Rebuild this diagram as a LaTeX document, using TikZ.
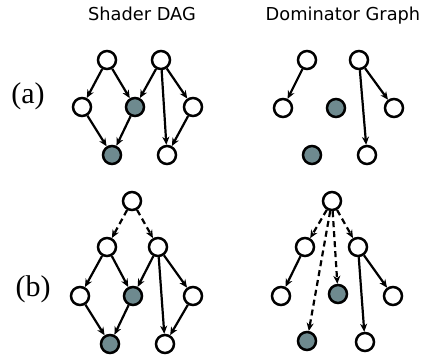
\documentclass[tikz,border=0pt]{standalone}
\usepackage{fontspec}
\setmainfont{Liberation Serif}
\newfontfamily\titlefont{DejaVu Sans}
\usetikzlibrary{arrows.meta}
\definecolor{nodegray}{RGB}{110,138,143}
\tikzset{
  vtx/.style={circle,draw=black,line width=2.5pt,fill=white,minimum size=18pt,inner sep=0pt},
  gvtx/.style={vtx,fill=nodegray},
  arr/.style={line width=2.2pt,-{Stealth[length=8pt,width=7pt,inset=2.5pt]}},
  darr/.style={arr,dash pattern=on 6pt off 4pt},
  ttl/.style={font=\titlefont\fontsize{17.8}{21}\selectfont,anchor=base,inner sep=0pt},
  lbl/.style={font=\fontsize{30}{32}\selectfont}
}
\begin{document}
\begin{tikzpicture}[x=1pt,y=-1pt]
\useasboundingbox (0,0) rectangle (422,358);
% titles
\node[ttl] (t1) at (142,21) {Shader DAG};
\node[ttl] (t2) at (343,21) {Dominator Graph};
\node[lbl] (la) at (28,96) {(a)};
\node[lbl] (lb) at (33,289) {(b)};
% (a) Shader DAG
\node[vtx] (a1) at (107,60) {};
\node[vtx] (a2) at (161,60) {};
\node[vtx] (a3) at (82,107) {};
\node[gvtx] (a4) at (135,107) {};
\node[vtx] (a5) at (193,107) {};
\node[gvtx] (a6) at (112,155) {};
\node[vtx] (a7) at (167,155) {};
\draw[arr] (a1) -- (a3);
\draw[arr] (a1) -- (a4);
\draw[arr] (a2) -- (a4);
\draw[arr] (a2) -- (a7);
\draw[arr] (a2) -- (a5);
\draw[arr] (a3) -- (a6);
\draw[arr] (a4) -- (a6);
\draw[arr] (a5) -- (a7);
% (a) Dominator graph
\node[vtx] (d1) at (307,60) {};
\node[vtx] (d2) at (359,60) {};
\node[vtx] (d3) at (283,108) {};
\node[gvtx] (d4) at (336,108) {};
\node[vtx] (d5) at (394,108) {};
\node[gvtx] (d6) at (312,155) {};
\node[vtx] (d7) at (367,155) {};
\draw[arr] (d1) -- (d3);
\draw[arr] (d2) -- (d7);
\draw[arr] (d2) -- (d5);
% (b) Shader DAG
\node[vtx] (b0) at (132,201) {};
\node[vtx] (b1) at (107,247) {};
\node[vtx] (b2) at (158,247) {};
\node[vtx] (b3) at (80,296) {};
\node[gvtx] (b4) at (133,296) {};
\node[vtx] (b5) at (193,296) {};
\node[gvtx] (b6) at (110,344) {};
\node[vtx] (b7) at (165,344) {};
\draw[darr] (b0) -- (b1);
\draw[darr] (b0) -- (b2);
\draw[arr] (b1) -- (b3);
\draw[arr] (b1) -- (b4);
\draw[arr] (b2) -- (b4);
\draw[arr] (b2) -- (b7);
\draw[arr] (b2) -- (b5);
\draw[arr] (b3) -- (b6);
\draw[arr] (b4) -- (b6);
\draw[arr] (b5) -- (b7);
% (b) Dominator graph
\node[vtx] (e0) at (332,201) {};
\node[vtx] (e1) at (305,247) {};
\node[vtx] (e2) at (358,247) {};
\node[vtx] (e3) at (281,296) {};
\node[gvtx] (e4) at (338,294) {};
\node[vtx] (e5) at (393,296) {};
\node[gvtx] (e6) at (307,341) {};
\node[vtx] (e7) at (365,342) {};
\draw[darr] (e0) -- (e1);
\draw[darr] (e0) -- (e6);
\draw[darr] (e0) -- (e4);
\draw[darr] (e0) -- (e2);
\draw[arr] (e1) -- (e3);
\draw[arr] (e2) -- (e7);
\draw[arr] (e2) -- (e5);
\end{tikzpicture}
\end{document}
